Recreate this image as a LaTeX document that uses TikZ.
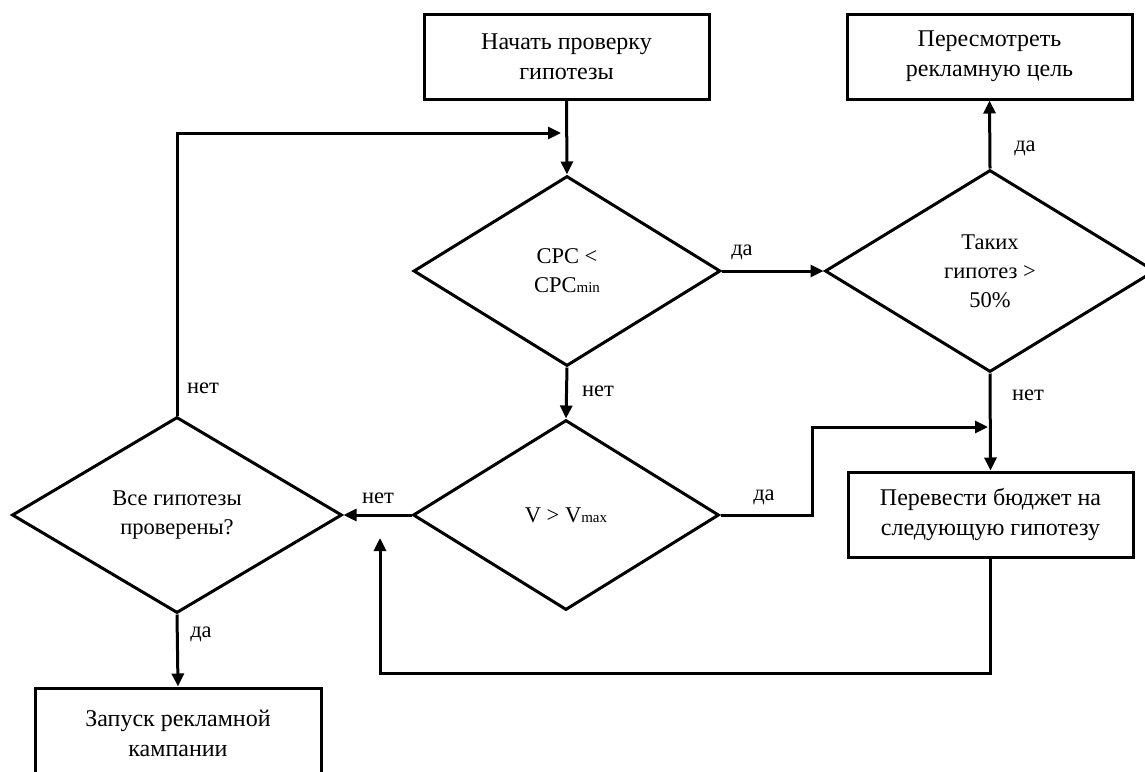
\documentclass[tikz,border=0pt]{standalone}
\usepackage{fontspec}
\setmainfont{Liberation Serif}
\usetikzlibrary{shapes.geometric,arrows.meta}
\begin{document}
\begin{tikzpicture}[x=1pt,y=-1pt,
  every node/.style={font=\fontsize{22.5}{29}\selectfont},
  box/.style={draw,line width=3pt,rectangle,minimum width=285pt,minimum height=85pt,align=center,inner sep=0pt,font=\fontsize{24}{30}\selectfont},
  dec/.style={draw,line width=3pt,diamond,inner sep=0pt,align=center},
  conn/.style={line width=3pt,-{Triangle[length=13pt,width=12pt]}},
  lbl/.style={inner sep=0pt}
]
\useasboundingbox (0,0) rectangle (1145,771);
\newcommand{\smallsub}[1]{{\fontsize{15}{15}\selectfont #1}}
% boxes
\node[box] (start) at (566.5,57) {Начать проверку\\гипотезы};
\node[box] (revise) at (989.5,56.5) {Пересмотреть\\рекламную цель};
\node[box] (move) at (990.5,514.5) {Перевести бюджет на\\следующую гипотезу};
\node[box,minimum width=286pt,minimum height=90pt] (launch) at (178,733) {Запуск рекламной\\кампании};
% decisions
\node[dec,minimum width=307pt,minimum height=190pt] (cpc) at (567,271) {CPC <\\CPC\smallsub{min}};
\node[dec,minimum width=330pt,minimum height=202pt] (share) at (990,271) {Таких\\гипотез >\\50\%};
\node[dec,minimum width=306pt,minimum height=190pt] (vmax) at (566,515) {V > V\smallsub{max}};
\node[dec,minimum width=330pt,minimum height=196pt] (all) at (177,515) {Все гипотезы\\проверены?};
% free ends
\coordinate (j1) at (988,427);
\coordinate (j2) at (561,133);
\coordinate (j4) at (380,673);
\coordinate (j3) at (380,538);
% connectors
\draw[conn] (start.south) -- (cpc.north);
\draw[conn] (cpc.east) -- (share.west);
\draw[conn] (share.north) -- (revise.south);
\draw[conn] (cpc.south) -- (vmax.north);
\draw[conn] (share.south) -- (move.north);
\draw[conn] (vmax.east) -- ++(92,0) |- (j1);
\draw[conn] (vmax.west) -- (all.east);
\draw[conn] (all.north) |- (j2);
\draw[conn] (all.south) -- (launch.north);
\draw[conn] (move.south) |- (j4) -- (j3);
% labels
\node[lbl] (l1) at (742,252) {да};
\node[lbl] (l2) at (1025,148) {да};
\node[lbl] (l3) at (598,391) {нет};
\node[lbl] (l4) at (1028,395) {нет};
\node[lbl] (l5) at (764,497) {да};
\node[lbl] (l6) at (378,498) {нет};
\node[lbl] (l7) at (203,388) {нет};
\node[lbl] (l8) at (201,634) {да};
\end{tikzpicture}
\end{document}
